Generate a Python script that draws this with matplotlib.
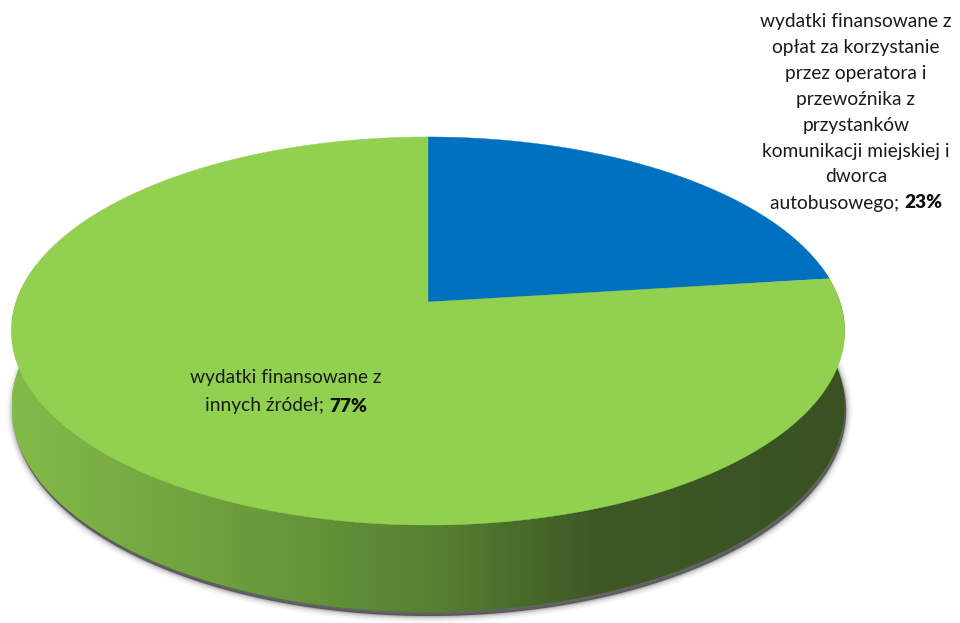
import numpy as np
import matplotlib
matplotlib.use("Agg")
import matplotlib.pyplot as plt
from matplotlib.patches import Polygon
from matplotlib.colors import LinearSegmentedColormap
from matplotlib.offsetbox import TextArea, HPacker, AnnotationBbox

# shares of the two expense sources (percent)
labels = [
    ["wydatki finansowane z", "opłat za korzystanie", "przez operatora i",
     "przewoźnika z", "przystanków", "komunikacji miejskiej i", "dworca",
     "autobusowego;"],
    ["wydatki finansowane z", "innych źródeł;"],
]
values = [23, 77]
top_colors = ["#0070C0", "#92D050"]

plt.rcParams["font.family"] = ["Lato", "DejaVu Sans"]

W, H_PX = 960, 623
fig = plt.figure(figsize=(W / 100, H_PX / 100), dpi=100)
ax = fig.add_axes([0, 0, 1, 1])
ax.set_xlim(0, W)
ax.set_ylim(H_PX, 0)
ax.axis("off")

# perspective disc: centre, half axes, tilt factor, thickness
CX, CY = 428, 302
RX, RY = 412, 189.7
K = 0.1495
DEPTH = 74


def project(t, h=0.0):
    u, v = np.cos(t), np.sin(t)
    w = 1 + K * v
    return CX + RX * u / w, CY + (-RY * v + DEPTH * h) / w


# side wall (front half plus a bit past the silhouette);
# its front upper edge tucks under the lid so no seam shows
a = np.arcsin(K) + 0.05
ts = np.linspace(np.pi - a, 2 * np.pi + a, 300)
xt, yt = project(ts, -0.05 * np.maximum(-np.sin(ts), 0))
xb, yb = project(ts, 1)
side_xy = np.column_stack([np.r_[xt, xb[::-1]], np.r_[yt, yb[::-1]]])

# soft drop shadow: the base disc, nudged down, with a blurred rim
tb = np.linspace(0, 2 * np.pi, 400)
base_xy = np.column_stack(project(tb, 1)) + [1.5, 4]
ax.add_patch(Polygon(base_xy, closed=True, facecolor="#6b6b6b",
                     edgecolor="none", zorder=1))
for lw, al in [(9, 0.05), (6, 0.08), (3.5, 0.13), (1.5, 0.2)]:
    ax.add_patch(Polygon(base_xy, closed=True, facecolor="none",
                         edgecolor=(0.25, 0.25, 0.25, al), lw=lw, zorder=1))

side = Polygon(side_xy, closed=True, facecolor="none", edgecolor="none", zorder=2)
ax.add_patch(side)
shade = LinearSegmentedColormap.from_list("wall", [
    (0.0, "#84BA49"), (0.34, "#66963A"), (0.52, "#557F31"),
    (0.70, "#3D5825"), (1.0, "#3A5222")])
grad = np.linspace(0, 1, 512)[None, :]
img = ax.imshow(grad, cmap=shade, extent=[12, 845, 623, 100], aspect="auto",
                zorder=2, interpolation="bilinear")
img.set_clip_path(side)

# top face slices, clockwise from 12 o'clock
start = np.pi / 2
for val, col in zip(values, top_colors):
    sweep = 2 * np.pi * val / sum(values)
    tt = np.linspace(start, start - sweep, 400)
    px, py = project(tt, 0)
    xy = np.column_stack([np.r_[CX, px], np.r_[CY, py]])
    ax.add_patch(Polygon(xy, closed=True, facecolor=col, edgecolor=col,
                         lw=0.3, zorder=3))
    start -= sweep

FS = 13.8


def put_label(lines, pct, x, y0, step):
    for i, line in enumerate(lines[:-1]):
        ax.text(x, y0 + i * step, line, ha="center", va="center",
                fontsize=FS, color="#1a1a1a", zorder=5)
    last = HPacker(children=[
        TextArea(lines[-1] + " ", textprops=dict(fontsize=FS, color="#1a1a1a")),
        TextArea(f"{pct}%", textprops=dict(fontsize=FS, color="#111111",
                                           fontweight="heavy")),
    ], sep=0, pad=0, align="baseline")
    ab = AnnotationBbox(last, (x, y0 + (len(lines) - 1) * step),
                        xycoords="data", frameon=False, pad=0,
                        box_alignment=(0.5, 0.5), zorder=5)
    ax.add_artist(ab)


put_label(labels[0], values[0], 856, 21, 26)
put_label(labels[1], values[1], 286, 378, 28)

fig.savefig("out.png", dpi=100)
